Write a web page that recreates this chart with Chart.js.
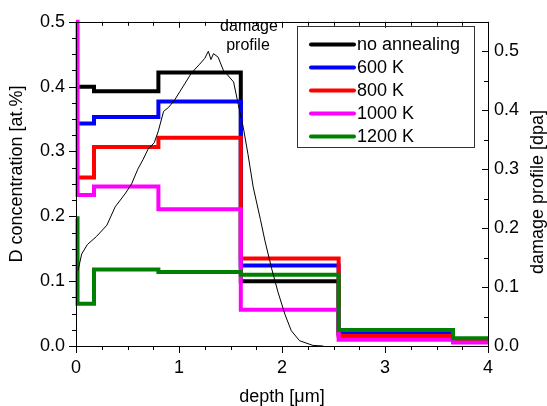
<!DOCTYPE html>
<html>
<head>
<meta charset="utf-8">
<script src="https://cdn.jsdelivr.net/npm/chart.js@4"></script>
<style>
  html, body { margin: 0; padding: 0; background: #fff; }
  #wrap { width: 547px; height: 406px; }
</style>
</head>
<body>
<div id="wrap"><canvas id="myChart" width="547" height="406"></canvas></div>
<script>
// step edges [um]: each value holds from its edge to the next one
const depthEdges = [0, 0.015, 0.175, 0.8, 1.6, 2.55, 3.66, 4];

const noAnnealing = [0.400, 0.400, 0.393, 0.422, 0.100, 0.018, 0.009, 0.009];
const k600  = [0.343, 0.343, 0.353, 0.377, 0.124, 0.020, 0.010, 0.010];
const k800  = [0.260, 0.260, 0.307, 0.321, 0.135, 0.0155, 0.008, 0.008];
const k1000 = [0.500, 0.233, 0.246, 0.211, 0.056, 0.0095, 0.0053, 0.0053];
const k1200 = [0.197, 0.065, 0.118, 0.114, 0.110, 0.0245, 0.0118, 0.0118];

const seriesLabels = ['no annealing', '600 K', '800 K', '1000 K', '1200 K'];
const seriesColors = ['#000000', '#0000ff', '#ff0000', '#ff00ff', '#008000'];

// damage profile (right axis, dpa)
const damageDepth = [0.02, 0.055, 0.11, 0.2, 0.3, 0.38, 0.476, 0.54, 0.6, 0.65, 0.7, 0.76, 0.8, 0.85,
  0.9, 0.96, 1.01, 1.06, 1.12, 1.2, 1.25, 1.285, 1.31, 1.335, 1.38, 1.43, 1.48, 1.53, 1.575,
  1.625, 1.67, 1.72, 1.79, 1.835, 1.9, 1.96, 2.03, 2.09, 2.17, 2.3, 2.4];
const damageDpa = [0.128, 0.156, 0.172, 0.186, 0.205, 0.236, 0.258, 0.275, 0.3, 0.316, 0.334, 0.345, 0.365, 0.398,
  0.405, 0.418, 0.432, 0.446, 0.463, 0.478, 0.488, 0.5, 0.486, 0.496, 0.49, 0.468, 0.458, 0.448, 0.41,
  0.37, 0.325, 0.27, 0.215, 0.178, 0.131, 0.092, 0.053, 0.026, 0.009, 0.001, 0];

const FONT = '"Liberation Sans", Arial, sans-serif';

function pts(xs, ys) {
  var out = [];
  for (var i = 0; i < xs.length; i++) out.push({x: xs[i], y: ys[i]});
  return out;
}

function onTenth(v) {
  return Math.abs(v * 10 - Math.round(v * 10)) < 1e-6;
}

const stepSeries = [noAnnealing, k600, k800, k1000, k1200];
var datasets = [];
for (var i = 0; i < stepSeries.length; i++) {
  datasets.push({
    label: seriesLabels[i],
    data: pts(depthEdges, stepSeries[i]),
    borderColor: seriesColors[i],
    backgroundColor: seriesColors[i],
    borderWidth: 4,
    stepped: 'before',
    pointRadius: 0,
    yAxisID: 'y',
    order: stepSeries.length - i,   // later series on top
    clip: 4
  });
}
datasets.push({
  label: 'damage profile',
  data: pts(damageDepth, damageDpa),
  borderColor: '#000',
  borderWidth: 1,
  pointRadius: 0,
  tension: 0,
  yAxisID: 'y2',
  order: 0
});

// axes frame, tick marks, legend box, titles and note
const extras = {
  id: 'extras',
  afterDraw(chart) {
    const ctx = chart.ctx, a = chart.chartArea;
    const sx = chart.scales.x, sy = chart.scales.y, sy2 = chart.scales.y2;
    ctx.save();
    ctx.strokeStyle = '#000';
    ctx.lineWidth = 1;
    ctx.strokeRect(Math.round(a.left) + 0.5, Math.round(a.top) + 0.5,
      Math.round(a.right - a.left), Math.round(a.bottom - a.top));

    ctx.beginPath();
    sx.ticks.forEach(function (t) {
      var p = Math.round(sx.getPixelForValue(t.value)) + 0.5;
      var len = t.label !== '' ? 7 : 4;
      ctx.moveTo(p, a.bottom); ctx.lineTo(p, a.bottom + len);
      ctx.moveTo(p, a.top); ctx.lineTo(p, a.top + (t.label !== '' ? 6 : 4));
    });
    sy.ticks.forEach(function (t) {
      var p = Math.round(sy.getPixelForValue(t.value)) + 0.5;
      var len = t.label !== '' ? 7 : 4;
      ctx.moveTo(a.left, p); ctx.lineTo(a.left - len, p);
    });
    sy2.ticks.forEach(function (t) {
      var p = Math.round(sy2.getPixelForValue(t.value)) + 0.5;
      var len = t.label !== '' ? 6 : 4;
      ctx.moveTo(a.right, p); ctx.lineTo(a.right - len, p);
    });
    ctx.stroke();

    // legend
    ctx.strokeStyle = '#333';
    ctx.strokeRect(297.5, 26.5, 177, 121);
    ctx.font = '18px ' + FONT;
    ctx.textBaseline = 'middle';
    ctx.textAlign = 'left';
    for (var i = 0; i < seriesLabels.length; i++) {
      var yy = 44.5 + i * 23;
      ctx.strokeStyle = seriesColors[i];
      ctx.lineWidth = 4;
      ctx.lineCap = 'round';
      ctx.beginPath();
      ctx.moveTo(311, yy); ctx.lineTo(354, yy);
      ctx.stroke();
      ctx.fillStyle = '#000';
      ctx.fillText(seriesLabels[i], 357, yy + 1);
    }

    // note over the curve
    ctx.font = '16px ' + FONT;
    ctx.textAlign = 'center';
    ctx.fillText('damage', 249, 27);
    ctx.fillText('profile', 248, 46);

    // y titles, both reading bottom to top
    ctx.font = '18px ' + FONT;
    ctx.save();
    ctx.translate(17, 174);
    ctx.rotate(-Math.PI / 2);
    ctx.fillText('D concentration [at.%]', 0, 0);
    ctx.restore();
    ctx.save();
    ctx.translate(538, 192);
    ctx.rotate(-Math.PI / 2);
    ctx.fillText('damage profile [dpa]', 0, 0);
    ctx.restore();
    ctx.restore();
  }
};

function main() {
  Chart.defaults.font.family = FONT;
  Chart.defaults.font.size = 18;
  Chart.defaults.color = '#000';

  const chartDiv = document.getElementById('myChart');
  var chart = new Chart(chartDiv, {
    type: 'line',
    data: {datasets: datasets},
    options: {
      responsive: false,
      animation: false,
      layout: {padding: {top: 15, left: 0, right: 0, bottom: 0}},
      plugins: {legend: {display: false}, tooltip: {enabled: false}},
      scales: {
        x: {
          type: 'linear', min: 0, max: 4,
          grid: {display: false, drawTicks: false},
          border: {display: false},
          ticks: {
            stepSize: 0.25, padding: 11, maxRotation: 0, autoSkip: false,
            callback: function (v) { return Number.isInteger(v) ? String(v) : ''; }
          },
          title: {display: true, text: 'depth [\u03bcm]', padding: 0, font: {size: 18, lineHeight: 1}},
          afterFit: function (s) { s.height = 60; }
        },
        y: {
          position: 'left', min: 0, max: 0.5,
          grid: {display: false, drawTicks: false},
          border: {display: false},
          ticks: {
            stepSize: 0.025, padding: 11, autoSkip: false,
            callback: function (v) { return onTenth(v) ? v.toFixed(1) : ''; }
          },
          afterFit: function (s) { s.width = 76; }
        },
        y2: {
          position: 'right', min: 0, max: 0.55,
          grid: {display: false, drawTicks: false},
          border: {display: false},
          ticks: {
            stepSize: 0.05, padding: 6, autoSkip: false,
            callback: function (v) { return onTenth(v) ? v.toFixed(1) : ''; }
          },
          afterFit: function (s) { s.width = 59; }
        }
      }
    },
    plugins: [extras]
  });
  chart.update();
}

document.addEventListener('DOMContentLoaded', function () {
  main();
});
</script>
</body>
</html>
